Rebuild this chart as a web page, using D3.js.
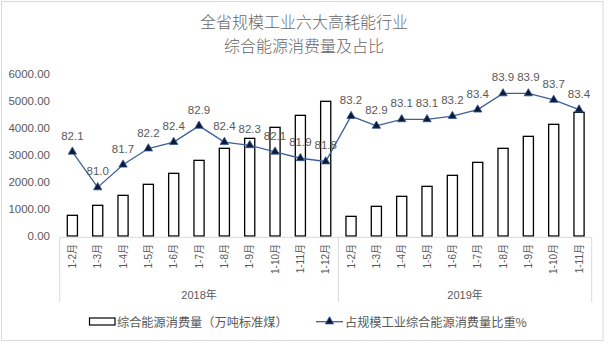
<!DOCTYPE html>
<html><head><meta charset="utf-8">
<script src="https://cdn.jsdelivr.net/npm/d3@7/dist/d3.min.js"></script>
<style>
html,body{margin:0;padding:0;background:#fff;}
svg{display:block;font-family:"Liberation Sans","Noto Sans CJK SC",sans-serif;}
</style></head>
<body><svg id="c" width="609" height="344"></svg>
<script>
const titleLines = ["全省规模工业六大高耗能行业", "综合能源消费量及占比"];
const years = ["2018年", "2019年"];
const months2018 = ["1-2月","1-3月","1-4月","1-5月","1-6月","1-7月","1-8月","1-9月","1-10月","1-11月","1-12月"];
const months2019 = ["1-2月","1-3月","1-4月","1-5月","1-6月","1-7月","1-8月","1-9月","1-10月","1-11月"];
const energy2018 = [766, 1136, 1506, 1914, 2321, 2802, 3247, 3617, 4025, 4469, 4988];
const energy2019 = [728, 1099, 1469, 1839, 2247, 2728, 3247, 3691, 4136, 4580];
const share2018 = [82.1, 81.0, 81.7, 82.2, 82.4, 82.9, 82.4, 82.3, 82.1, 81.9, 81.8];
const share2019 = [83.2, 82.9, 83.1, 83.1, 83.2, 83.4, 83.9, 83.9, 83.7, 83.4];
const yTicks = [0, 1000, 2000, 3000, 4000, 5000, 6000];
const legendBar = "综合能源消费量（万吨标准煤）";
const legendLine = "占规模工业综合能源消费量比重%";

const data = [];
months2018.forEach((m,i)=>data.push({key:"2018-"+i, month:m, year:years[0], energy:energy2018[i], share:share2018[i]}));
months2019.forEach((m,i)=>data.push({key:"2019-"+i, month:m, year:years[1], energy:energy2019[i], share:share2019[i]}));

const svg = d3.select("#c");
const L = 59.7, R = 591.7, T = 74, B = 236;
const textCol = "#595959";

svg.append("rect").attr("x",1.5).attr("y",1.5).attr("width",601.5).attr("height",339)
  .attr("fill","none").attr("stroke","#d9d9d9").attr("stroke-width",1);

svg.selectAll("text.title").data(titleLines).enter().append("text")
  .attr("x",304).attr("y",(d,i)=>28+i*24).attr("text-anchor","middle")
  .attr("font-size",16).attr("fill","#666").attr("font-family","Noto Sans CJK SC").attr("font-weight",300).text(d=>d);

const x = d3.scaleBand().domain(data.map(d=>d.key)).range([L,R]).paddingInner(0.6).paddingOuter(0.3);
const y = d3.scaleLinear().domain([0,6000]).range([B,T]);
const y2 = d3.scaleLinear().domain([79.5,84.5]).range([B,T]);

const yAxis = d3.axisLeft(y).tickValues(yTicks).tickFormat(d3.format(".2f")).tickSize(0).tickPadding(0);
const gy = svg.append("g").attr("transform",`translate(50,0)`).call(yAxis);
gy.select(".domain").remove();
gy.selectAll("text").attr("font-size",11.5).attr("fill",textCol);

svg.selectAll("rect.bar").data(data).enter().append("rect")
  .attr("x",d=>x(d.key)).attr("width",x.bandwidth())
  .attr("y",d=>y(d.energy)).attr("height",d=>B-y(d.energy))
  .attr("fill","#fff").attr("stroke","#000").attr("stroke-width",1.3);

const step = x.step();
const ax = svg.append("g").attr("stroke","#d9d9d9").attr("stroke-width",1);
ax.append("line").attr("x1",L).attr("x2",R).attr("y1",B+1.3).attr("y2",B+1.3);
const sepX = [L, L+step*months2018.length, R];
sepX.forEach(sx=>ax.append("line").attr("x1",sx).attr("x2",sx).attr("y1",B+1.3).attr("y2",302));

svg.selectAll("text.cat").data(data).enter().append("text")
  .attr("transform",d=>`translate(${x(d.key)+x.bandwidth()/2+3.5},244) rotate(-90)`)
  .attr("text-anchor","end").attr("font-size",10).attr("fill",textCol).text(d=>d.month);

const yearCenters = [ (L+sepX[1])/2, (sepX[1]+R)/2 ];
svg.selectAll("text.year").data(years).enter().append("text")
  .attr("x",(d,i)=>yearCenters[i]).attr("y",299).attr("text-anchor","middle")
  .attr("font-size",11).attr("fill",textCol).text(d=>d);

const cx = d=>x(d.key)+x.bandwidth()/2;
const line = d3.line().x(cx).y(d=>y2(d.share));
svg.append("path").datum(data).attr("d",line).attr("fill","none")
  .attr("stroke","#3B6196").attr("stroke-width",1.3);
const tri = d3.symbol().type(d3.symbolTriangle).size(30);
svg.selectAll("path.mk").data(data).enter().append("path")
  .attr("d",tri).attr("transform",d=>`translate(${cx(d)},${y2(d.share)})`)
  .attr("fill","#0d1a36").attr("stroke","#2F5597").attr("stroke-width",0.8);
svg.selectAll("text.lbl").data(data).enter().append("text")
  .attr("x",cx).attr("y",d=>y2(d.share)-12).attr("text-anchor","middle")
  .attr("font-size",11.5).attr("fill",textCol).text(d=>d.share.toFixed(1));

svg.append("rect").attr("x",89.5).attr("y",318).attr("width",25.5).attr("height",7)
  .attr("fill","#fff").attr("stroke","#000").attr("stroke-width",1.2);
svg.append("text").attr("x",117).attr("y",326.5).attr("font-size",12.2).attr("fill",textCol)
  .attr("font-family","Noto Sans CJK SC").text(legendBar);
svg.append("line").attr("x1",316).attr("x2",343).attr("y1",321.7).attr("y2",321.7)
  .attr("stroke","#3B6196").attr("stroke-width",1.3);
svg.append("path").attr("d",tri).attr("transform","translate(329.5,321.5)")
  .attr("fill","#0d1a36").attr("stroke","#2F5597").attr("stroke-width",0.8);
svg.append("text").attr("x",345).attr("y",326.5).attr("font-size",12.2).attr("fill",textCol)
  .attr("font-family","Noto Sans CJK SC").text(legendLine);
</script></body></html>
